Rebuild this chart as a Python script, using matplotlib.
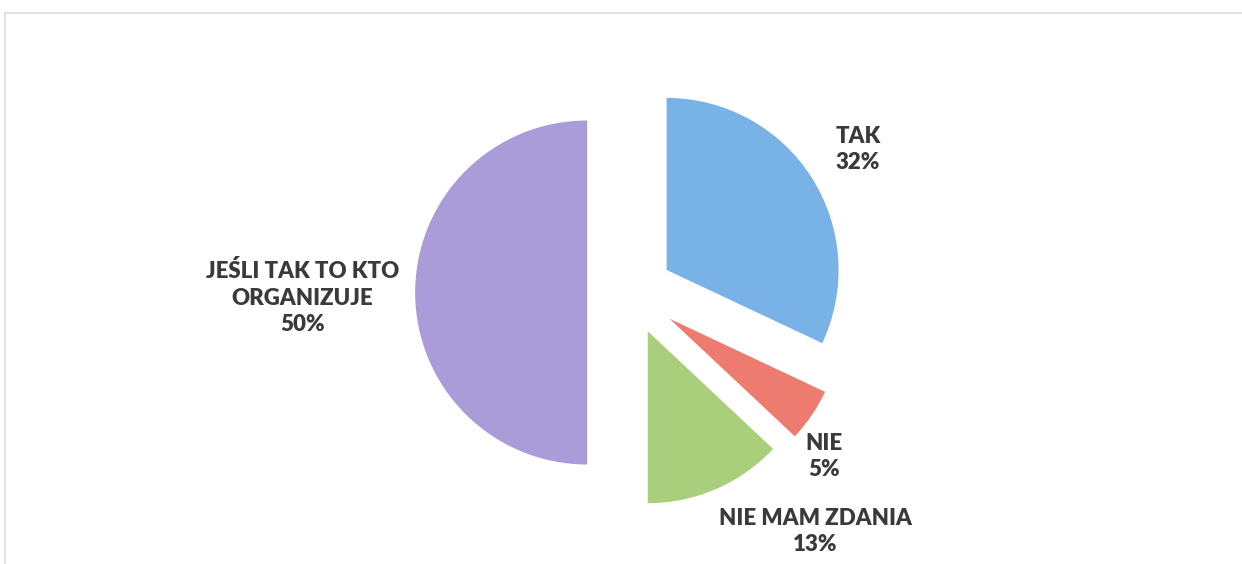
import matplotlib.pyplot as plt
from matplotlib.patches import Rectangle

# dane
kategorie = ["TAK", "NIE", "NIE MAM ZDANIA", "JEŚLI TAK TO KTO\nORGANIZUJE"]
wartosci = [32, 5, 13, 50]
kolory = ["#79B2E6", "#EE7B70", "#A9CF7C", "#A99CD8"]
wysuniecie = [0.245, 0.27, 0.245, 0.255]

# pozycje etykiet (w jednostkach promienia)
pozycje_etykiet = [(1.32, 0.83), (1.12, -0.955), (1.07, -1.39), (-1.91, -0.03)]

W, H = 1242, 564
R_PX = 172
CX, CY = 631, 292.5

fig = plt.figure(figsize=(W / 100, H / 100), dpi=100)
ax = fig.add_axes([0, 0, 1, 1])
ax.pie(wartosci, colors=kolory, explode=wysuniecie, startangle=90,
       counterclock=False, radius=1, wedgeprops=dict(linewidth=0))
ax.set_xlim(-CX / R_PX, (W - CX) / R_PX)
ax.set_ylim(-(H - CY) / R_PX, CY / R_PX)
ax.set_aspect("equal")
ax.axis("off")

for kat, wart, (x, y) in zip(kategorie, wartosci, pozycje_etykiet):
    ax.text(x, y, f"{kat}\n{wart}%", ha="center", va="center",
            fontsize=16, fontweight="heavy", color="#3a3a3a",
            family="Lato", linespacing=1.32)

# delikatna ramka wykresu
fig.patches.append(Rectangle((5 / W, -0.1), 1.2, 1 - 13 / H + 0.1,
                             transform=fig.transFigure, fill=False,
                             edgecolor="#dcdcdc", linewidth=1.2))

plt.savefig("out.png", dpi=100)
